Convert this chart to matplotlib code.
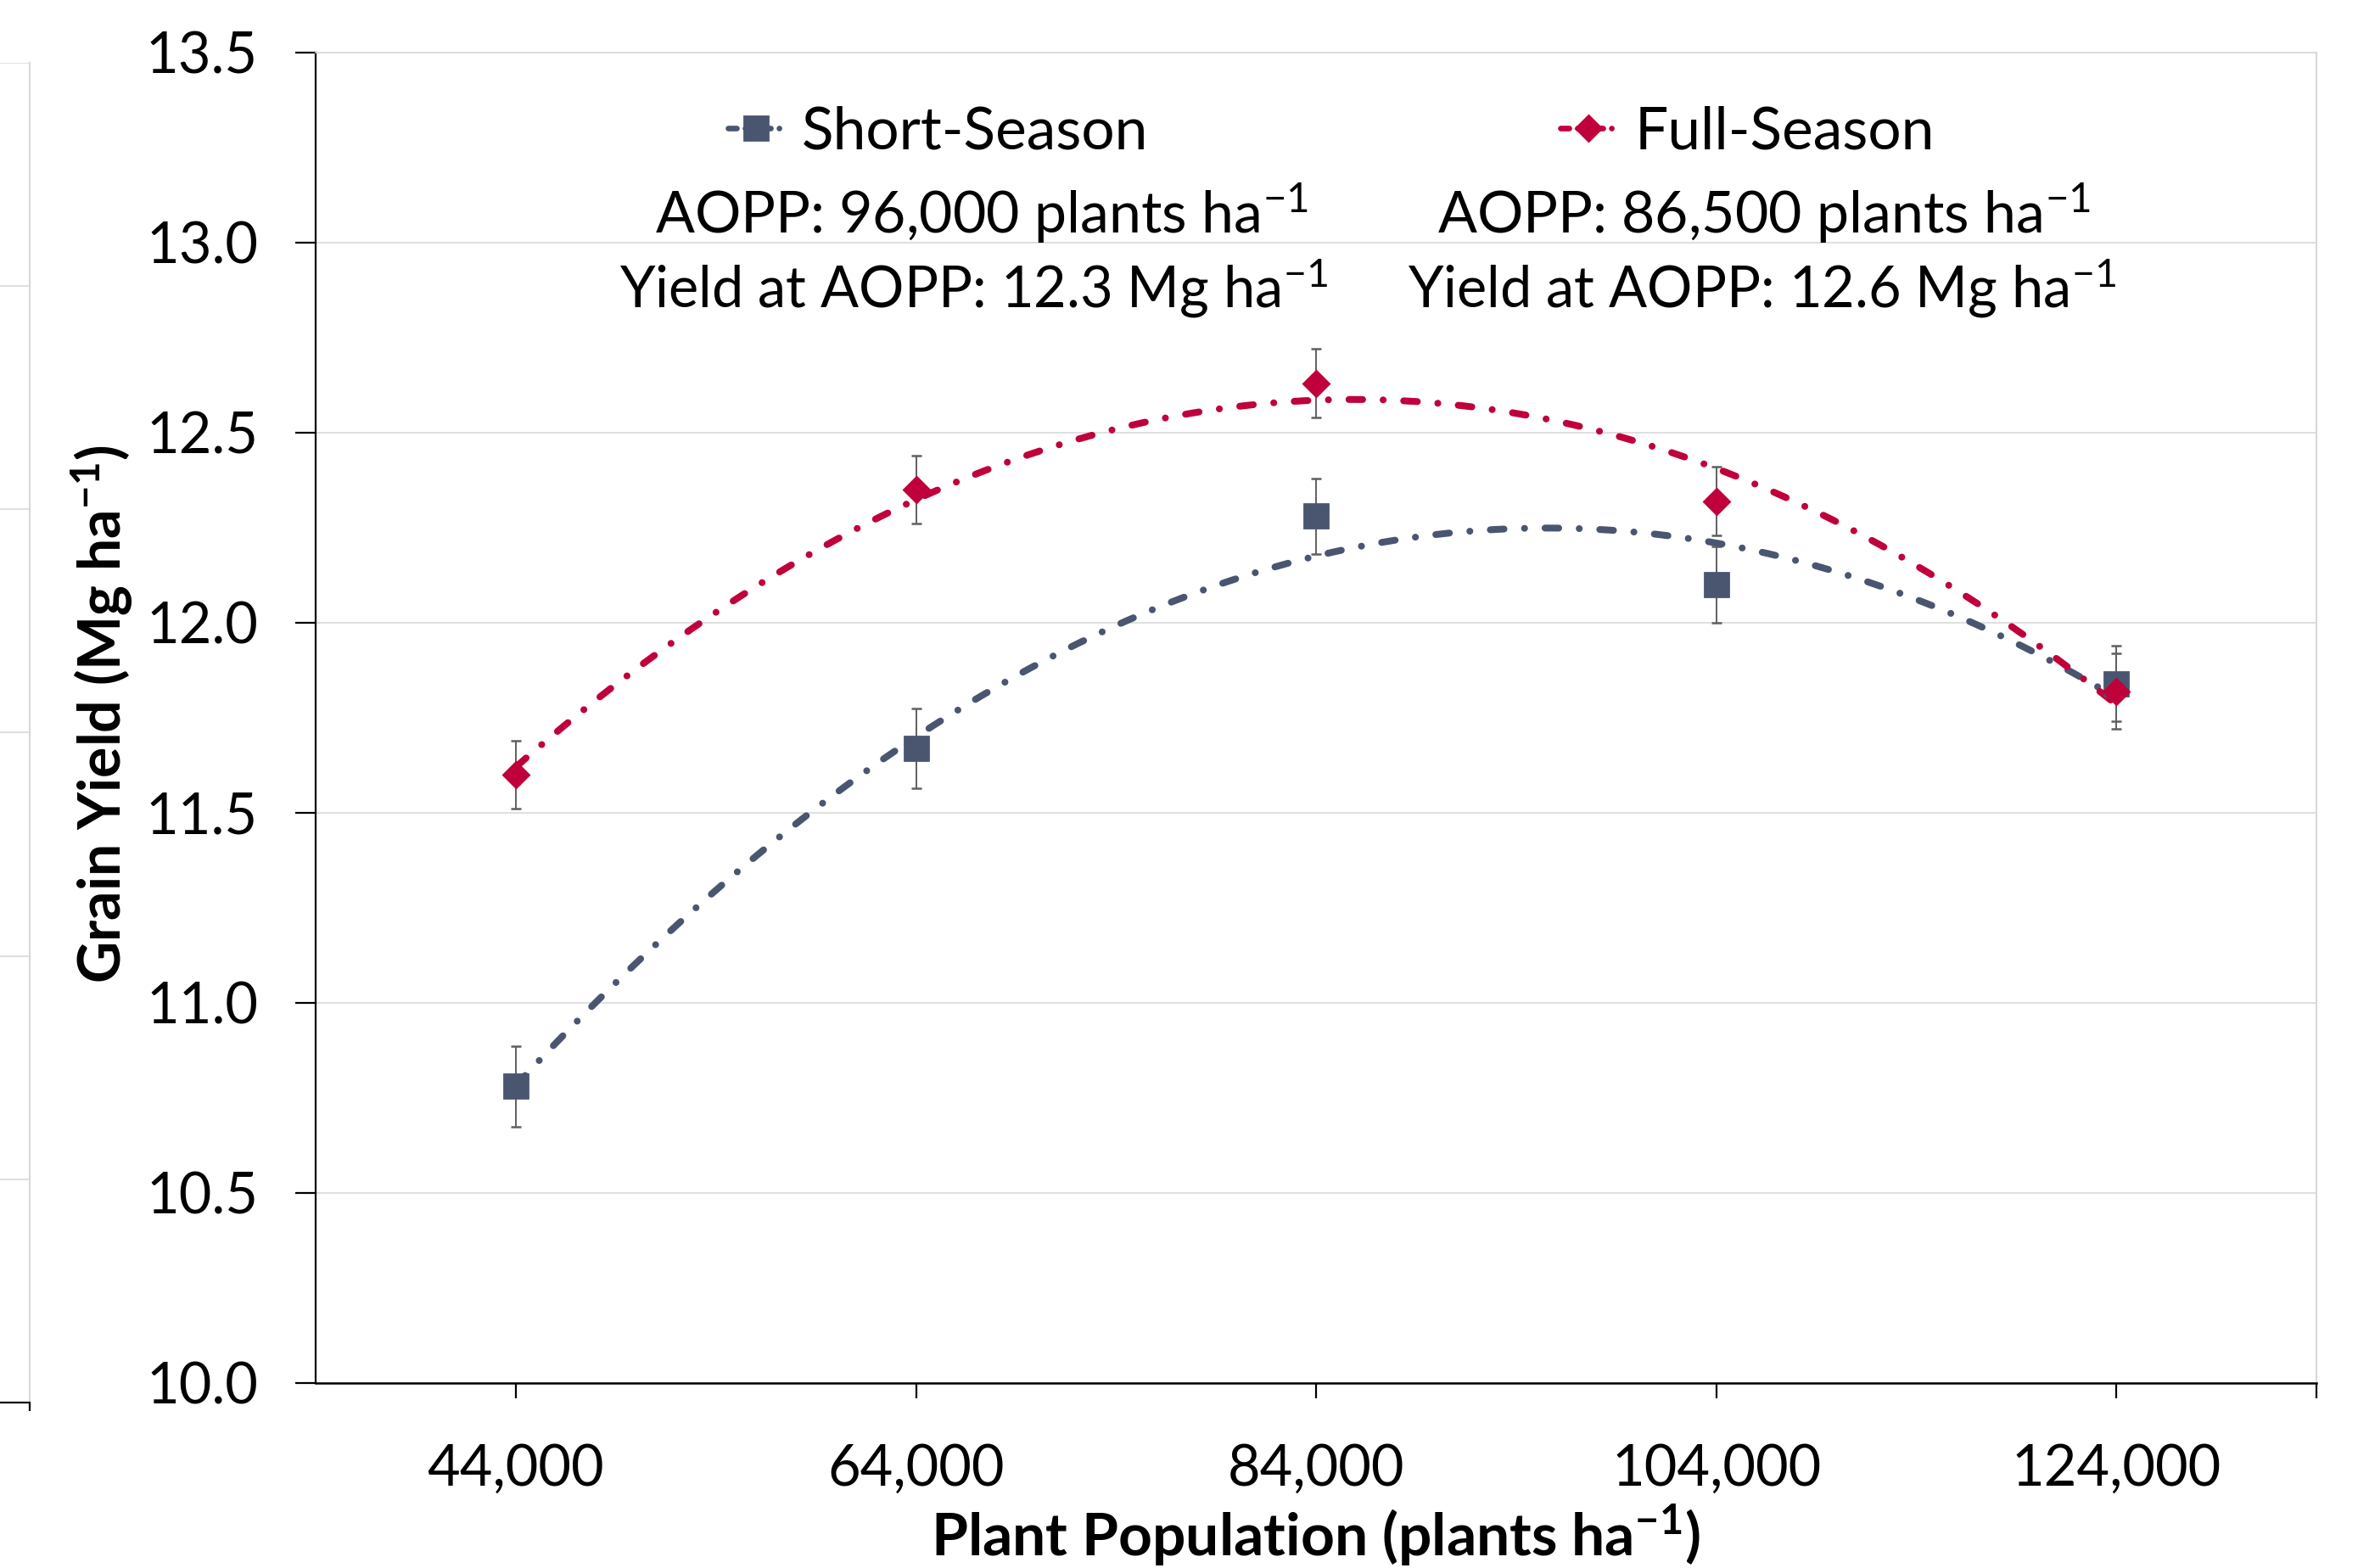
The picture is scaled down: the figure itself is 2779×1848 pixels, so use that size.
import numpy as np
import matplotlib
matplotlib.use("Agg")
import matplotlib.pyplot as plt
from matplotlib.lines import Line2D

# data
populations = [44000, 64000, 84000, 104000, 124000]
short_yield = [10.78, 11.67, 12.28, 12.10, 11.84]
short_err = [0.105, 0.105, 0.10, 0.10, 0.10]
full_yield = [11.60, 12.35, 12.63, 12.32, 11.82]
full_err = [0.09, 0.09, 0.09, 0.09, 0.10]
tick_labels = ["44,000", "64,000", "84,000", "104,000", "124,000"]
y_ticks = [10.0, 10.5, 11.0, 11.5, 12.0, 12.5, 13.0, 13.5]

short_color = "#4A5670"
full_color = "#C0003A"
err_color = "#5F5F5F"
grid_color = "#D9D9D9"

plt.rcParams["font.family"] = ["Lato", "DejaVu Sans"]
plt.rcParams["mathtext.fontset"] = "custom"
plt.rcParams["mathtext.rm"] = "Lato"
plt.rcParams["mathtext.bf"] = "Lato:bold"
plt.rcParams["mathtext.it"] = "Lato:italic"

fig = plt.figure(figsize=(13.895, 9.24), dpi=200)

# fragment of a neighbouring chart on the far left edge
side = fig.add_axes([-0.3, 0.1055, 0.3126, 0.8545])
side.set_xlim(0, 1)
side.set_ylim(0, 6)
side.set_yticks(range(7))
side.set_xticks([1])
side.tick_params(axis="x", length=3.5, width=0.8, labelbottom=False, direction="out")
side.tick_params(axis="y", length=0, labelleft=False)
side.grid(axis="y", color=grid_color, lw=0.6)
for s in ["top", "left"]:
    side.spines[s].set_visible(False)
side.spines["right"].set_color(grid_color)
side.spines["right"].set_linewidth(0.8)
side.spines["bottom"].set_linewidth(0.8)

ax = fig.add_axes([0.1339, 0.1180, 0.8485, 0.8485])

# quadratic trendlines fitted to the means
xs = np.linspace(populations[0], populations[-1], 300)
dash = (0, (2.0, 3.0, 0.01, 3.0))
for yv, col in [(short_yield, short_color), (full_yield, full_color)]:
    coef = np.polyfit(populations, yv, 2)
    ax.plot(xs, np.polyval(coef, xs), color=col, lw=2.9, linestyle=dash,
            dash_capstyle="round", zorder=3)

ax.errorbar(populations, short_yield, yerr=short_err, fmt="none", ecolor=err_color,
            elinewidth=0.7, capsize=2.2, capthick=0.9, zorder=2)
ax.errorbar(populations, full_yield, yerr=full_err, fmt="none", ecolor=err_color,
            elinewidth=0.7, capsize=2.2, capthick=0.9, zorder=2)
ax.plot(populations, short_yield, ls="none", marker="s", ms=10, color=short_color, zorder=4)
ax.plot(populations, full_yield, ls="none", marker="D", ms=7.8, color=full_color, zorder=5)

ax.set_xlim(34000, 134000)
ax.set_ylim(10.0, 13.5)
ax.set_xticks(populations + [134000])
ax.set_xticklabels(tick_labels + [""])
ax.set_yticks(y_ticks)
ax.set_yticklabels([f"{v:.1f}" for v in y_ticks])
ax.tick_params(axis="x", length=6.5, width=0.8, pad=19, labelsize=24)
ax.tick_params(axis="y", length=8.5, width=0.8, pad=16, labelsize=24)
ax.grid(axis="y", color=grid_color, lw=0.6)
ax.set_axisbelow(True)
ax.spines["top"].set_color(grid_color)
ax.spines["right"].set_color(grid_color)
ax.spines["top"].set_linewidth(0.6)
ax.spines["right"].set_linewidth(0.8)
ax.spines["left"].set_linewidth(0.8)
ax.spines["bottom"].set_linewidth(0.9)

handles = [
    Line2D([0], [0], color=short_color, lw=2.4, linestyle=(0, (1.5, 1.5, 0.01, 3)),
           dash_capstyle="round", marker="s", ms=10),
    Line2D([0], [0], color=full_color, lw=2.4, linestyle=(0, (1.5, 1.5, 0.01, 3)),
           dash_capstyle="round", marker="D", ms=7.8),
]
ax.legend(handles, ["Short-Season", "Full-Season"], loc="center", ncol=2,
          bbox_to_anchor=(0.5075, 0.94), frameon=False, fontsize=25,
          handlelength=0.95, handletextpad=0.3, columnspacing=7.0, borderpad=0)

ax.text(0.333, 0.864, "AOPP: 96,000 plants ha$^{-1}$", transform=ax.transAxes,
        ha="center", va="baseline", fontsize=24.5)
ax.text(0.329, 0.808, "Yield at AOPP: 12.3 Mg ha$^{-1}$", transform=ax.transAxes,
        ha="center", va="baseline", fontsize=24)
ax.text(0.724, 0.864, "AOPP: 86,500 plants ha$^{-1}$", transform=ax.transAxes,
        ha="center", va="baseline", fontsize=24.5)
ax.text(0.723, 0.808, "Yield at AOPP: 12.6 Mg ha$^{-1}$", transform=ax.transAxes,
        ha="center", va="baseline", fontsize=24)

fig.text(0.0432, 0.5444, r"Grain Yield (Mg ha$^{\mathbf{-1}}$)", rotation=90,
         ha="center", va="center", fontsize=24.5, fontweight="bold")
fig.text(0.558, 0.0076, r"Plant Population (plants ha$^{\mathbf{-1}}$)",
         ha="center", va="baseline", fontsize=25, fontweight="bold")

fig.savefig("out.png", dpi=200)
